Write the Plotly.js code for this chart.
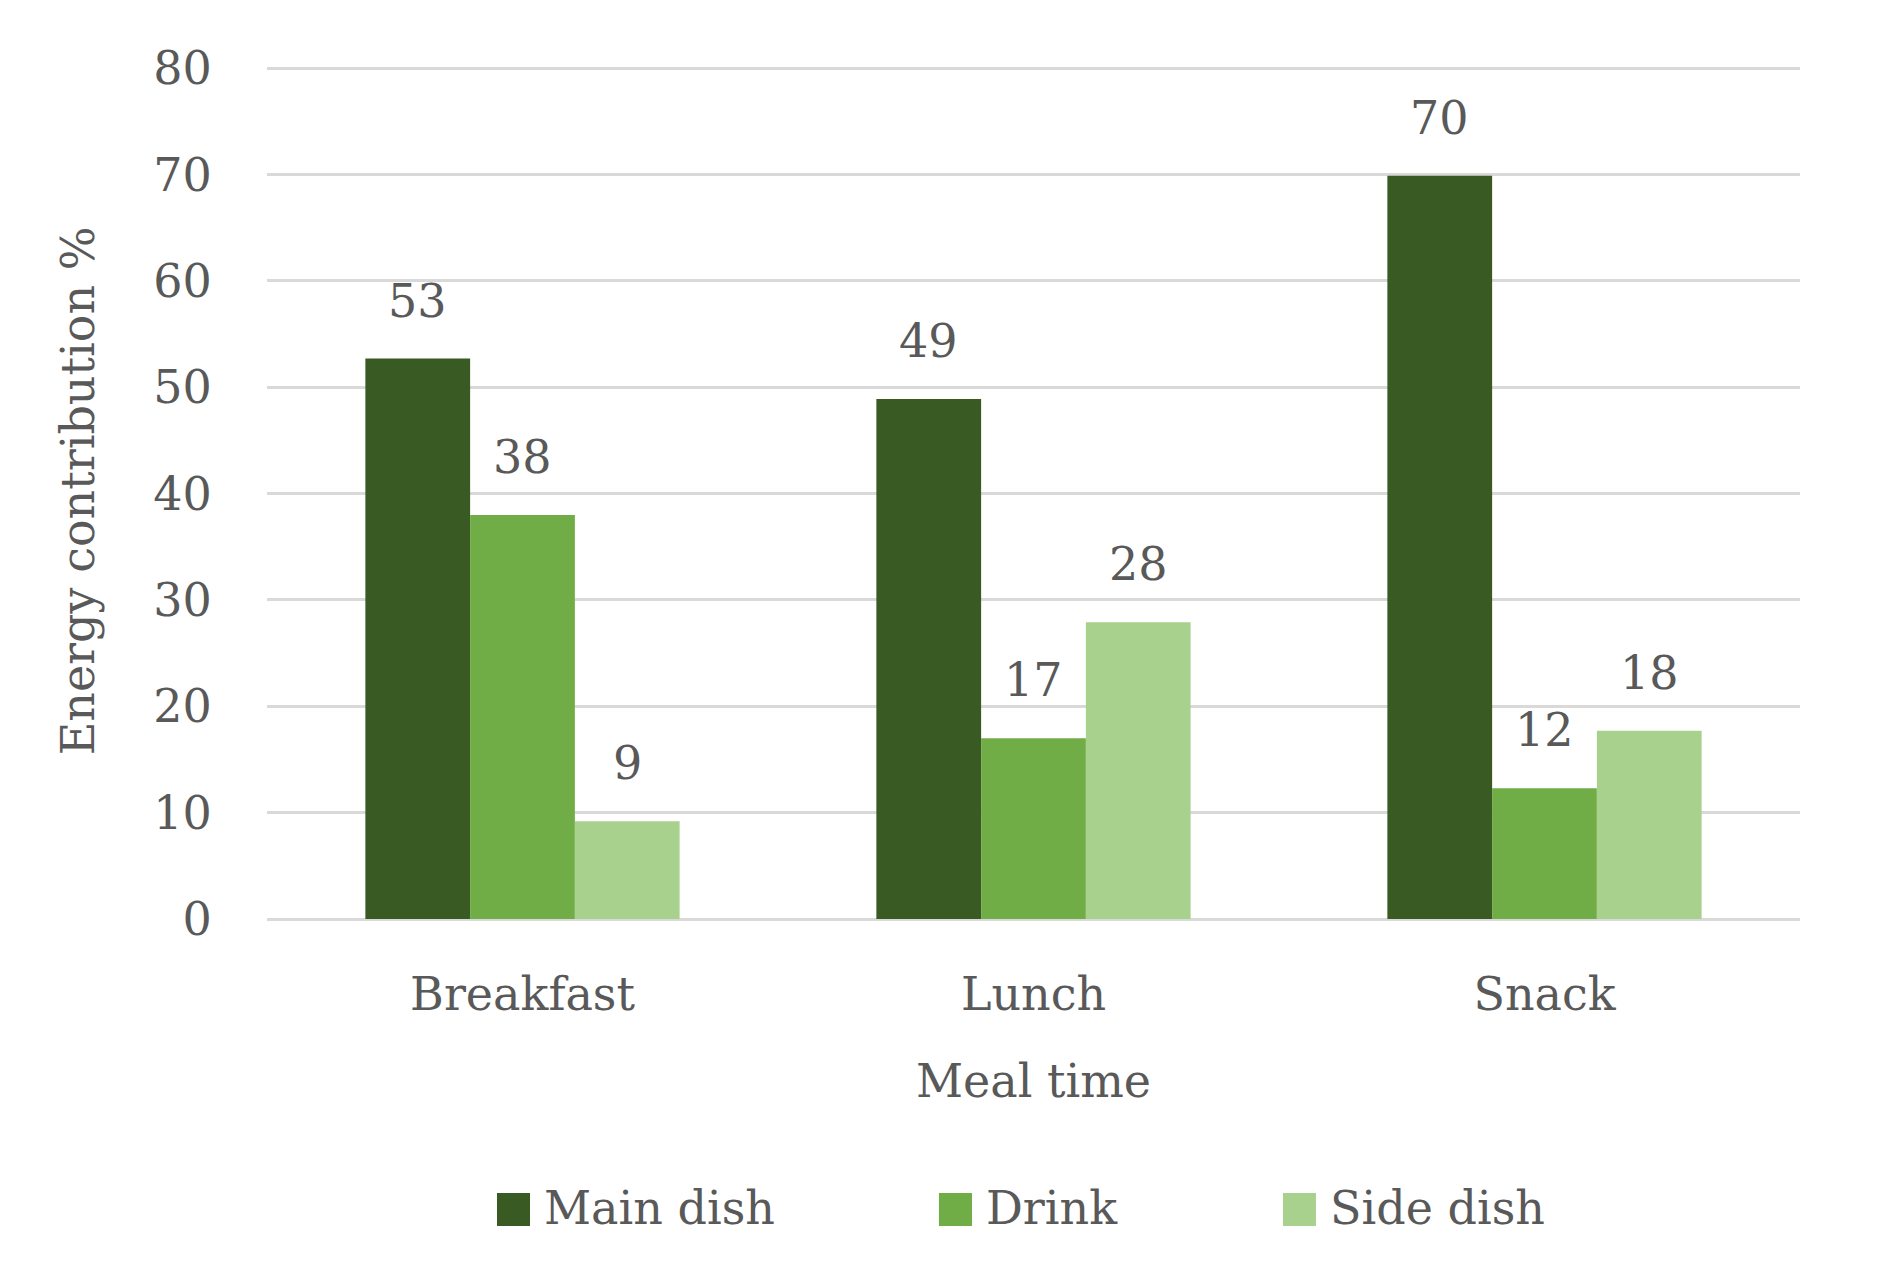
<!DOCTYPE html>
<html>
<head>
<meta charset="utf-8">
<script src="https://cdn.plot.ly/plotly-3.0.1.min.js"></script>
<style>
  html, body { margin: 0; padding: 0; background: #ffffff; }
  #chart { width: 1880px; height: 1284px; }
</style>
</head>
<body>
<div id="chart"></div>
<script>
// ---- data ----
const categories = ["Breakfast", "Lunch", "Snack"];
const seriesNames = ["Main dish", "Drink", "Side dish"];
const mainDish = [52.7, 48.9, 69.9];
const drink = [38.0, 17.0, 12.3];
const sideDish = [9.2, 27.9, 17.7];
const yTickVals = [0, 10, 20, 30, 40, 50, 60, 70, 80];
const yTickText = ["0", "10", "20", "30", "40", "50", "60", "70", "80"];

// ---- style ----
const colors = ["#3A5A23", "#70AD47", "#A9D18E"];
const textColor = "#595959";
const gridColor = "#D9D9D9";
const fontFamily = "DejaVu Serif, Liberation Serif, serif";
const fontSize = 46;

const W = 1880, H = 1284;
const margin = { l: 267, r: 80, t: 63, b: 365, pad: 0 };
const yMax = 80.5;
const bargap = 0.385;
const plotW = W - margin.l - margin.r;
const barPx = plotW / categories.length * (1 - bargap) / seriesNames.length;

const seriesValues = [mainDish, drink, sideDish];
const legendIds = ["legend", "legend2", "legend3"];

const traces = seriesValues.map((vals, i) => ({
  type: "bar",
  name: seriesNames[i],
  x: categories,
  y: vals,
  marker: { color: colors[i], line: { width: 0 } },
  legend: legendIds[i],
  hoverinfo: "skip"
}));

// value labels above each bar
const annotations = [];
seriesValues.forEach((vals, i) => {
  vals.forEach((v, j) => {
    annotations.push({
      x: categories[j], y: v, xref: "x", yref: "y",
      text: String(Math.round(v)),
      showarrow: false,
      xanchor: "center", yanchor: "middle",
      xshift: (i - (seriesNames.length - 1) / 2) * barPx,
      yshift: 58,
      font: { family: fontFamily, size: fontSize, color: textColor }
    });
  });
});

const legendBase = {
  orientation: "h",
  xanchor: "left",
  yanchor: "middle",
  y: -0.336,
  bgcolor: "rgba(0,0,0,0)",
  borderwidth: 0,
  font: { family: fontFamily, size: fontSize, color: textColor }
};

const layout = {
  width: W, height: H,
  margin: margin,
  paper_bgcolor: "#ffffff",
  plot_bgcolor: "#ffffff",
  barmode: "group",
  bargap: bargap,
  bargroupgap: 0,
  font: { family: fontFamily, size: fontSize, color: textColor },
  showlegend: true,
  legend: Object.assign({}, legendBase, { x: 0.1546 }),
  legend2: Object.assign({}, legendBase, { x: 0.4429 }),
  legend3: Object.assign({}, legendBase, { x: 0.6673 }),
  xaxis: {
    type: "category",
    showgrid: false,
    showline: false,
    zeroline: false,
    ticks: "outside",
    ticklen: 35,
    tickcolor: "rgba(0,0,0,0)",
    tickfont: { family: fontFamily, size: fontSize, color: textColor },
    title: { text: "Meal time", standoff: 44, font: { family: fontFamily, size: fontSize, color: textColor } },
    automargin: false
  },
  yaxis: {
    range: [0, yMax],
    tickvals: yTickVals,
    ticktext: yTickText,
    showgrid: true,
    gridcolor: gridColor,
    gridwidth: 3,
    zeroline: true,
    zerolinecolor: gridColor,
    zerolinewidth: 3,
    showline: false,
    ticks: "outside",
    ticklen: 45,
    tickcolor: "rgba(0,0,0,0)",
    tickfont: { family: fontFamily, size: fontSize, color: textColor },
    title: { text: "Energy contribution %", standoff: 44, font: { family: fontFamily, size: fontSize, color: textColor } },
    automargin: false
  },
  annotations: annotations
};

const gdDiv = document.getElementById("chart");

function enlargeSwatches(gd) {
  // make the legend keys the large squares of the reference (33px, 14px before the text)
  gd.querySelectorAll("[clip-path]").forEach(e => {
    if (e.closest(".infolayer")) e.removeAttribute("clip-path");
  });
  gd.querySelectorAll(".legendpoints path").forEach(p => {
    const item = p.closest(".traces");
    const t = item ? item.querySelector("text") : null;
    if (!t) return;
    const tr = t.getBoundingClientRect();
    if (!tr.width) return;
    const ctm = p.getScreenCTM();
    if (!ctm) return;
    const side = 33;
    const right = tr.left - 14, left = right - side;
    const cy = tr.top + tr.height * 0.52;
    const m = ctm.inverse();
    const svg = p.ownerSVGElement;
    const toLocal = (x, y) => { const pt = svg.createSVGPoint(); pt.x = x; pt.y = y; return pt.matrixTransform(m); };
    const a = toLocal(left, cy - side / 2), b = toLocal(right, cy + side / 2);
    const d = "M" + a.x.toFixed(2) + "," + a.y.toFixed(2) + "H" + b.x.toFixed(2) + "V" + b.y.toFixed(2) + "H" + a.x.toFixed(2) + "Z";
    if (p.getAttribute("d") !== d) p.setAttribute("d", d);
    if (p.style.strokeWidth !== "0px") p.style.strokeWidth = "0px";
  });
}

// re-apply whenever Plotly (re)draws legend parts, including asynchronously drawn legends
let busy = false;
const obs = new MutationObserver(() => {
  if (busy) return;
  busy = true;
  try { enlargeSwatches(gdDiv); } finally { busy = false; }
});
obs.observe(gdDiv, { childList: true, subtree: true, characterData: true, attributes: true, attributeFilter: ["d", "transform", "x", "y"] });

Plotly.newPlot(gdDiv, traces, layout, { staticPlot: true, displayModeBar: false }).then(gd => {
  enlargeSwatches(gd);
  requestAnimationFrame(() => enlargeSwatches(gd));
  setTimeout(() => enlargeSwatches(gd), 50);
  setTimeout(() => enlargeSwatches(gd), 300);
});
</script>
</body>
</html>
